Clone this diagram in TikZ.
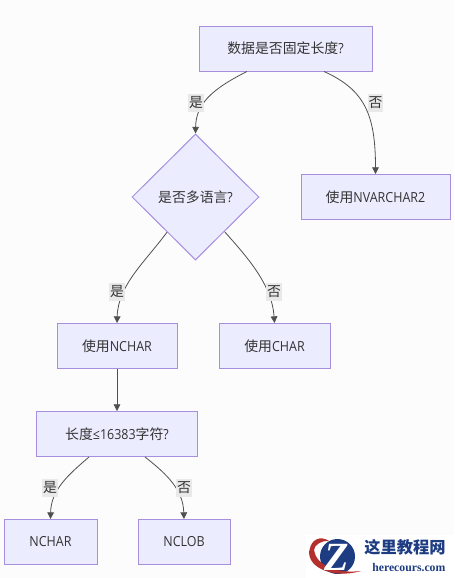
\documentclass[tikz,border=0pt]{standalone}
\usepackage{fontspec}
\setmainfont[FakeStretch=0.9]{Open Sans}
\newfontfamily\cjk{Noto Sans CJK SC}
\newfontfamily\markfont{Liberation Serif}
\usetikzlibrary{arrows.meta,positioning,shapes.geometric}
\definecolor{pagebg}{HTML}{FCFCFD}
\definecolor{nodefill}{HTML}{ECECFF}
\definecolor{nodeline}{HTML}{A78FDD}
\definecolor{inktext}{HTML}{333333}
\definecolor{flowline}{HTML}{505050}
\definecolor{labelbg}{HTML}{E9E9E9}
\definecolor{marknavy}{HTML}{1D3C82}
\definecolor{markred}{HTML}{B3302C}

\begin{document}
\begin{tikzpicture}[x=0.75pt, y=-0.75pt, >={Triangle[length=5pt, width=5pt]},
	every node/.style={font=\fontsize{10.4pt}{12pt}\selectfont, text=inktext},
	stepbox/.style={draw=nodeline, fill=nodefill, line width=0.75pt, minimum height=33.75pt, inner sep=0pt},
	choice/.style={draw=nodeline, fill=nodefill, line width=0.75pt, diamond, aspect=1, inner sep=0pt, minimum width=95.25pt, minimum height=94.5pt},
	flow/.style={->, draw=flowline, line width=0.6pt},
	edgelabel/.style={fill=labelbg, inner xsep=0.5pt, inner ysep=2.5pt, font=\cjk\fontsize{10.4pt}{12pt}\selectfont}]
	\useasboundingbox (0,0) rectangle (454,578);
	\fill[pagebg] (0,0) rectangle (454,578);

	\node[stepbox, minimum width=129.75pt] (fixed) at (285.5,48.5) {{\cjk 数据是否固定长度}?};
	\node[choice] (multi) at (195.5,197) {{\cjk 是否多语言}?};
	\node[stepbox, minimum width=111.75pt] (nvarchar) at (375.5,197) {{\cjk 使用}NVARCHAR2};
	\node[stepbox, minimum width=90pt] (usenchar) at (117,346) {{\cjk 使用}NCHAR};
	\node[stepbox, minimum width=83.25pt] (usechar) at (274.5,346) {{\cjk 使用}CHAR};
	\node[stepbox, minimum width=120.75pt] (limit) at (117,434) {{\cjk 长度}≤16383{\cjk 字符}?};
	\node[stepbox, minimum width=69.75pt] (nchar) at (50.5,542) {NCHAR};
	\node[stepbox, minimum width=69pt] (nclob) at (184,542) {NCLOB};

	\draw[flow] ([xshift=-28.9pt]fixed.south) .. controls (210,90) and (196,105) .. (multi.north);
	\draw[flow] ([xshift=28.9pt]fixed.south) .. controls (365,90) and (375.5,115) .. (nvarchar.north);
	\draw[flow] (multi.231) .. controls (145,262) and (118,285) .. (usenchar.north);
	\draw[flow] (multi.-50) .. controls (248,258) and (272,285) .. (usechar.north);
	\draw[flow] (usenchar) -- (limit);
	\draw[flow] ([xshift=-21pt]limit.south) .. controls (68,475) and (51,490) .. (nchar.north);
	\draw[flow] ([xshift=21pt]limit.south) .. controls (168,475) and (183,490) .. (nclob.north);

	\node[edgelabel] (yesa) at (196,103) {是};
	\node[edgelabel] (noa) at (375.5,103) {否};
	\node[edgelabel] (yesb) at (117,292) {是};
	\node[edgelabel] (nob) at (274,292) {否};
	\node[edgelabel] (yesc) at (50,488) {是};
	\node[edgelabel] (noc) at (184,488) {否};

	\fill[white] (306,535) rectangle (454,578);
	\fill[marknavy] (337.5,556.5) circle[radius=17.5];
	\fill[markred] (310,548) .. controls (304,565) and (330,580) .. (361,571) .. controls (336,574) and (316,565) .. (314,550) .. controls (314,545) and (322,540) .. (329,541) .. controls (320,535) and (312,540) .. (310,548);
	\node[font=\markfont\bfseries\itshape\fontsize{30pt}{30pt}\selectfont, text=white, inner sep=0pt] (logoz) at (337,557) {Z};
	\node[font=\cjk\bfseries\fontsize{12.2pt}{14pt}\selectfont, text=marknavy, anchor=west, inner sep=0pt, text height=9.5pt, text depth=0.5pt] (marktitle) at (364,547) {这里教程网};
	\node[font=\markfont\bfseries\fontsize{8.8pt}{10pt}\selectfont, text=marknavy, anchor=west, inner sep=0pt] (markurl) at (372,567.5) {herecours.com};
\end{tikzpicture}
\end{document}
